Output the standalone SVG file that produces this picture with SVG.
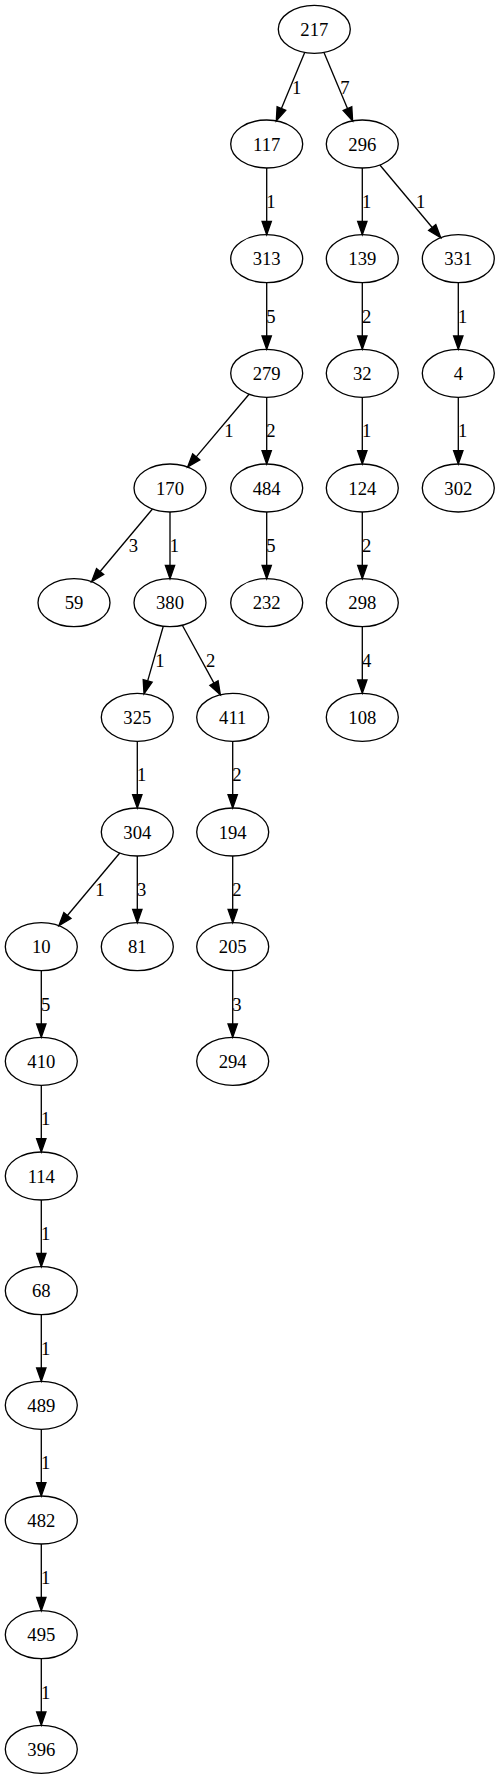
<svg xmlns="http://www.w3.org/2000/svg" width="500" height="1779" viewBox="0 0 500 1779">
<style>
.n ellipse{fill:none;stroke:#000;stroke-width:1.33}
text{font-family:"Liberation Serif","Times New Roman",serif;font-size:18.67px;fill:#000;text-anchor:middle}
.e path{fill:none;stroke:#000;stroke-width:1.33}
.e polygon{fill:#000;stroke:#000;stroke-width:1.33}
</style>
<rect width="500" height="1779" fill="#fff"/>
<g id="edges" class="e">
<path d="M304.70,52.46L281.41,108.56"/><polygon points="285.72,110.35 276.30,120.87 277.10,106.77"/>
<text x="296.7" y="93.5">1</text>
<path d="M323.98,52.45L347.47,108.58"/><polygon points="351.78,106.78 352.62,120.88 343.16,110.38"/>
<text x="345" y="93.5">7</text>
<path d="M266.7,168V221.33"/><polygon points="262.03,221.33 266.7,234.67 271.37,221.33"/>
<text x="271" y="208.13">1</text>
<path d="M362.3,168V221.33"/><polygon points="357.63,221.33 362.3,234.67 366.97,221.33"/>
<text x="366.6" y="208.13">1</text>
<path d="M379.85,164.96L432.20,227.49"/><polygon points="435.78,224.49 440.76,237.71 428.62,230.49"/>
<text x="420.7" y="208.13">1</text>
<path d="M266.7,282.67V336"/><polygon points="262.03,336 266.7,349.33 271.37,336"/>
<text x="271" y="322.8">5</text>
<path d="M362.3,282.67V336"/><polygon points="357.63,336 362.3,349.33 366.97,336"/>
<text x="366.6" y="322.8">2</text>
<path d="M458.3,282.67V336"/><polygon points="453.63,336 458.3,349.33 462.97,336"/>
<text x="462.6" y="322.8">1</text>
<path d="M249.06,394.25L196.23,456.89"/><polygon points="199.80,459.90 187.64,467.08 192.66,453.88"/>
<text x="229" y="437.47">1</text>
<path d="M266.7,397.33V450.67"/><polygon points="262.03,450.67 266.7,464 271.37,450.67"/>
<text x="271" y="437.47">2</text>
<path d="M362.3,397.33V450.67"/><polygon points="357.63,450.67 362.3,464 366.97,450.67"/>
<text x="366.6" y="437.47">1</text>
<path d="M458.3,397.33V450.67"/><polygon points="453.63,450.67 458.3,464 462.97,450.67"/>
<text x="462.6" y="437.47">1</text>
<path d="M152.46,508.96L100.11,571.49"/><polygon points="103.69,574.49 91.55,581.71 96.53,568.49"/>
<text x="133.3" y="552.13">3</text>
<path d="M170,512V565.33"/><polygon points="165.33,565.33 170,578.67 174.67,565.33"/>
<text x="174.3" y="552.13">1</text>
<path d="M266.7,512V565.33"/><polygon points="262.03,565.33 266.7,578.67 271.37,565.33"/>
<text x="271" y="552.13">5</text>
<path d="M362.3,512V565.33"/><polygon points="357.63,565.33 362.3,578.67 366.97,565.33"/>
<text x="366.6" y="552.13">2</text>
<path d="M163.28,626.25L147.68,680.93"/><polygon points="152.17,682.21 144.02,693.75 143.19,679.65"/>
<text x="160" y="666.8">1</text>
<path d="M182.33,625.22L213.98,683.08"/><polygon points="218.08,680.84 220.37,694.78 209.88,685.32"/>
<text x="210.7" y="666.8">2</text>
<path d="M362.3,626.67V680"/><polygon points="357.63,680 362.3,693.33 366.97,680"/>
<text x="366.6" y="666.8">4</text>
<path d="M137.3,741.33V794.67"/><polygon points="132.63,794.67 137.3,808 141.97,794.67"/>
<text x="141.6" y="781.47">1</text>
<path d="M232.7,741.33V794.67"/><polygon points="228.03,794.67 232.7,808 237.37,794.67"/>
<text x="237" y="781.47">2</text>
<path d="M119.76,852.96L67.41,915.49"/><polygon points="70.99,918.49 58.85,925.71 63.83,912.49"/>
<text x="100" y="896.13">1</text>
<path d="M137.3,856V909.33"/><polygon points="132.63,909.33 137.3,922.67 141.97,909.33"/>
<text x="141.6" y="896.13">3</text>
<path d="M232.7,856V909.33"/><polygon points="228.03,909.33 232.7,922.67 237.37,909.33"/>
<text x="237" y="896.13">2</text>
<path d="M41.3,970.67V1024"/><polygon points="36.63,1024 41.3,1037.33 45.97,1024"/>
<text x="45.6" y="1010.8">5</text>
<path d="M232.7,970.67V1024"/><polygon points="228.03,1024 232.7,1037.33 237.37,1024"/>
<text x="237" y="1010.8">3</text>
<path d="M41.3,1085.33V1138.67"/><polygon points="36.63,1138.67 41.3,1152 45.97,1138.67"/>
<text x="45.6" y="1125.47">1</text>
<path d="M41.3,1200V1253.33"/><polygon points="36.63,1253.33 41.3,1266.67 45.97,1253.33"/>
<text x="45.6" y="1240.13">1</text>
<path d="M41.3,1314.67V1368"/><polygon points="36.63,1368 41.3,1381.33 45.97,1368"/>
<text x="45.6" y="1354.8">1</text>
<path d="M41.3,1429.33V1482.67"/><polygon points="36.63,1482.67 41.3,1496 45.97,1482.67"/>
<text x="45.6" y="1469.47">1</text>
<path d="M41.3,1544V1597.33"/><polygon points="36.63,1597.33 41.3,1610.67 45.97,1597.33"/>
<text x="45.6" y="1584.13">1</text>
<path d="M41.3,1658.67V1712"/><polygon points="36.63,1712 41.3,1725.33 45.97,1712"/>
<text x="45.6" y="1698.8">1</text>
</g>
<g id="n217" class="n"><ellipse cx="314.3" cy="29.33" rx="36" ry="24"/><text x="314.3" y="36.13">217</text></g>
<g id="n117" class="n"><ellipse cx="266.7" cy="144" rx="36" ry="24"/><text x="266.7" y="150.8">117</text></g>
<g id="n296" class="n"><ellipse cx="362.3" cy="144" rx="36" ry="24"/><text x="362.3" y="150.8">296</text></g>
<g id="n313" class="n"><ellipse cx="266.7" cy="258.67" rx="36" ry="24"/><text x="266.7" y="265.47">313</text></g>
<g id="n139" class="n"><ellipse cx="362.3" cy="258.67" rx="36" ry="24"/><text x="362.3" y="265.47">139</text></g>
<g id="n331" class="n"><ellipse cx="458.3" cy="258.67" rx="36" ry="24"/><text x="458.3" y="265.47">331</text></g>
<g id="n279" class="n"><ellipse cx="266.7" cy="373.33" rx="36" ry="24"/><text x="266.7" y="380.13">279</text></g>
<g id="n32" class="n"><ellipse cx="362.3" cy="373.33" rx="36" ry="24"/><text x="362.3" y="380.13">32</text></g>
<g id="n4" class="n"><ellipse cx="458.3" cy="373.33" rx="36" ry="24"/><text x="458.3" y="380.13">4</text></g>
<g id="n170" class="n"><ellipse cx="170" cy="488" rx="36" ry="24"/><text x="170" y="494.8">170</text></g>
<g id="n484" class="n"><ellipse cx="266.7" cy="488" rx="36" ry="24"/><text x="266.7" y="494.8">484</text></g>
<g id="n124" class="n"><ellipse cx="362.3" cy="488" rx="36" ry="24"/><text x="362.3" y="494.8">124</text></g>
<g id="n302" class="n"><ellipse cx="458.3" cy="488" rx="36" ry="24"/><text x="458.3" y="494.8">302</text></g>
<g id="n59" class="n"><ellipse cx="74" cy="602.67" rx="36" ry="24"/><text x="74" y="609.47">59</text></g>
<g id="n380" class="n"><ellipse cx="170" cy="602.67" rx="36" ry="24"/><text x="170" y="609.47">380</text></g>
<g id="n232" class="n"><ellipse cx="266.7" cy="602.67" rx="36" ry="24"/><text x="266.7" y="609.47">232</text></g>
<g id="n298" class="n"><ellipse cx="362.3" cy="602.67" rx="36" ry="24"/><text x="362.3" y="609.47">298</text></g>
<g id="n325" class="n"><ellipse cx="137.3" cy="717.33" rx="36" ry="24"/><text x="137.3" y="724.13">325</text></g>
<g id="n411" class="n"><ellipse cx="232.7" cy="717.33" rx="36" ry="24"/><text x="232.7" y="724.13">411</text></g>
<g id="n108" class="n"><ellipse cx="362.3" cy="717.33" rx="36" ry="24"/><text x="362.3" y="724.13">108</text></g>
<g id="n304" class="n"><ellipse cx="137.3" cy="832" rx="36" ry="24"/><text x="137.3" y="838.8">304</text></g>
<g id="n194" class="n"><ellipse cx="232.7" cy="832" rx="36" ry="24"/><text x="232.7" y="838.8">194</text></g>
<g id="n10" class="n"><ellipse cx="41.3" cy="946.67" rx="36" ry="24"/><text x="41.3" y="953.47">10</text></g>
<g id="n81" class="n"><ellipse cx="137.3" cy="946.67" rx="36" ry="24"/><text x="137.3" y="953.47">81</text></g>
<g id="n205" class="n"><ellipse cx="232.7" cy="946.67" rx="36" ry="24"/><text x="232.7" y="953.47">205</text></g>
<g id="n410" class="n"><ellipse cx="41.3" cy="1061.33" rx="36" ry="24"/><text x="41.3" y="1068.13">410</text></g>
<g id="n294" class="n"><ellipse cx="232.7" cy="1061.33" rx="36" ry="24"/><text x="232.7" y="1068.13">294</text></g>
<g id="n114" class="n"><ellipse cx="41.3" cy="1176" rx="36" ry="24"/><text x="41.3" y="1182.8">114</text></g>
<g id="n68" class="n"><ellipse cx="41.3" cy="1290.67" rx="36" ry="24"/><text x="41.3" y="1297.47">68</text></g>
<g id="n489" class="n"><ellipse cx="41.3" cy="1405.33" rx="36" ry="24"/><text x="41.3" y="1412.13">489</text></g>
<g id="n482" class="n"><ellipse cx="41.3" cy="1520" rx="36" ry="24"/><text x="41.3" y="1526.8">482</text></g>
<g id="n495" class="n"><ellipse cx="41.3" cy="1634.67" rx="36" ry="24"/><text x="41.3" y="1641.47">495</text></g>
<g id="n396" class="n"><ellipse cx="41.3" cy="1749.33" rx="36" ry="24"/><text x="41.3" y="1756.13">396</text></g>
</svg>
